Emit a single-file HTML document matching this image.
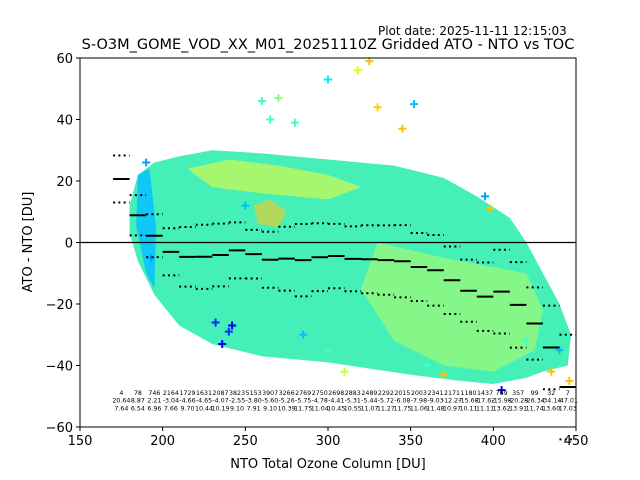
<!DOCTYPE html>
<html><head><meta charset="utf-8"><style>
body{margin:0;background:#fff;}
svg{display:block;font-family:"DejaVu Sans","Liberation Sans",sans-serif;}
</style></head><body>
<svg id="chart" width="640" height="480" viewBox="0 0 640 480">
<text x="378" y="35" font-size="12">Plot date: 2025-11-11 12:15:03</text>
<text x="328" y="49" font-size="14.5" text-anchor="middle">S-O3M_GOME_VOD_XX_M01_20251110Z Gridded ATO - NTO vs TOC</text>
<g id="cloud"></g>
<g id="marks"></g>
<g id="axes"></g>
<text x="328" y="468" font-size="13" text-anchor="middle">NTO Total Ozone Column [DU]</text>
<text x="32" y="242" font-size="13" text-anchor="middle" transform="rotate(-90 32 242)">ATO - NTO [DU]</text>
</svg>
<script>
const binCenters=[175,185,195,205,215,225,235,245,255,265,275,285,295,305,315,325,335,345,355,365,375,385,395,405,415,425,435,445];
const counts=[4,78,746,2164,1729,1631,2087,3823,5153,3907,3266,2769,2750,2698,2883,2489,2292,2015,2003,2341,2171,1180,1437,769,357,99,32,7];
const means=[20.64,8.87,2.21,-3.04,-4.66,-4.65,-4.07,-2.55,-3.80,-5.60,-5.26,-5.75,-4.78,-4.41,-5.31,-5.44,-5.72,-6.08,-7.98,-9.03,-12.27,-15.68,-17.62,-15.98,-20.28,-26.34,-34.14,-47.01];
const stds=[7.64,6.54,6.96,7.66,9.70,10.44,10.19,9.10,7.91,9.10,10.39,11.75,11.04,10.45,10.55,11.07,11.27,11.75,11.06,11.48,10.97,10.11,11.11,13.62,13.91,11.74,13.60,17.03];
const xTicks=[150,200,250,300,350,400,450];
const yTicks=[-60,-40,-20,0,20,40,60];
const envX=[180,185,195,210,230,260,300,340,370,390,410,420,430,440,447,445,430,420,400,380,350,300,260,230,210,195,185,180];
const envY=[12,22,26,28,30,29,27,25,21,15,8,0,-10,-20,-30,-40,-42,-44,-46,-45,-43,-39,-37,-33,-27,-17,-6,3];
const greenX=[330,370,400,420,430,425,400,370,340,320];
const greenY=[0,-5,-8,-10,-22,-35,-42,-40,-32,-15];
const yellowX=[215,240,270,300,320,300,260,230];
const yellowY=[24,27,25,22,18,14,16,18];
const blueX=[185,192,196,195,190,184];
const blueY=[22,24,5,-15,-10,5];
const orangeX=[255,265,275,270,258];
const orangeY=[12,14,10,5,6];
const outX=[300,318,325,330,345,352,260,270,242,236,395,398,440,446,190,193,232,240,280,250,300,310,360,370,405,420,435,265,285];
const outY=[53,56,59,44,37,45,46,47,-27,-33,15,11,-35,-45,26,-5,-26,-29,39,12,-35,-42,-40,-43,-48,-32,-42,40,-30];
const outC=["#00f0ff","#e0ff00","#ffc000","#ffd000","#ffc000","#00c0ff","#40ffc0","#80ff80","#0000ff","#0000ff","#00a0ff","#ffc000","#00c0ff","#ffc000","#00a0ff","#00a0ff","#0030ff","#0030ff","#40ffc0","#00c0ff","#40ffc0","#c0ff40","#40ffc0","#ffc000","#0000ff","#40ffc0","#ffc000","#40ffc0","#00c0ff"];
const X0=80,X1=576,Y0=427,Y1=58;
const sx=v=>X0+(v-150)/300*(X1-X0);
const sy=v=>Y0-(v+60)/120*(Y0-Y1);
const NS="http://www.w3.org/2000/svg";
function mk(tag,parent,attrs){const e=document.createElementNS(NS,tag);for(const k in attrs)e.setAttribute(k,attrs[k]);parent.appendChild(e);return e;}
const cloud=document.getElementById('cloud');
function poly(xs,ys,fill,name,op){
  const e=mk('polygon',cloud,{points:xs.map((x,i)=>sx(x)+','+sy(ys[i])).join(' '),fill:fill,'fill-opacity':op||1});
  
  
}
poly(envX,envY,"#44f0b8","cloud-envelope");
poly(greenX,greenY,"#90f880","cloud-green-region",0.85);
poly(yellowX,yellowY,"#b8f860","cloud-yellow-region",0.85);
poly(orangeX,orangeY,"#f8c820","cloud-orange-region",0.6);
poly(blueX,blueY,"#10c8f8","cloud-blue-region");
outX.forEach((x,i)=>{
  const px=sx(x),py=sy(outY[i]);
  const p=mk('path',cloud,{d:`M${px-4},${py}H${px+4}M${px},${py-4}V${py+4}`,stroke:outC[i],'stroke-width':2});
  
  
});
const marks=document.getElementById('marks');
const hw=(sx(10)-sx(0))/2;
binCenters.forEach((c,i)=>{
  const x=sx(c);
  const m=mk('line',marks,{x1:x-hw,x2:x+hw,y1:sy(means[i]),y2:sy(means[i]),stroke:'#000','stroke-width':2});
  
  
  [means[i]+stds[i],means[i]-stds[i]].forEach(v=>{
    const d=mk('line',marks,{x1:x-hw,x2:x+hw,y1:sy(v),y2:sy(v),stroke:'#000','stroke-width':2,'stroke-dasharray':'2,3.3'});
    
    
  });
  [counts[i],means[i].toFixed(2),stds[i].toFixed(2)].forEach((t,r)=>{
    const tx=mk('text',marks,{x:x,y:395+r*7.7,'font-size':6.3,'text-anchor':'middle'});
    tx.textContent=t;
    
    
  });
});
const axes=document.getElementById('axes');
const zl=mk('line',axes,{x1:X0,x2:X1,y1:sy(0),y2:sy(0),stroke:'#000','stroke-width':1.3});


const fr=mk('rect',axes,{x:X0,y:Y1,width:X1-X0,height:Y0-Y1,fill:'none',stroke:'#000','stroke-width':1});


xTicks.forEach(v=>{
  const x=sx(v);
  const t=mk('line',axes,{x1:x,x2:x,y1:Y0,y2:Y0+4,stroke:'#000'});
  
  
  const l=mk('text',axes,{x:x,y:Y0+18,'font-size':13,'text-anchor':'middle'});
  l.textContent=v;
  
  
});
yTicks.forEach(v=>{
  const y=sy(v);
  const t=mk('line',axes,{x1:X0-4,x2:X0,y1:y,y2:y,stroke:'#000'});
  
  
  const l=mk('text',axes,{x:X0-7,y:y+5,'font-size':13,'text-anchor':'end'});
  l.textContent=v<0?'\u2212'+(-v):v;
  
  
});
</script>
</body></html>
